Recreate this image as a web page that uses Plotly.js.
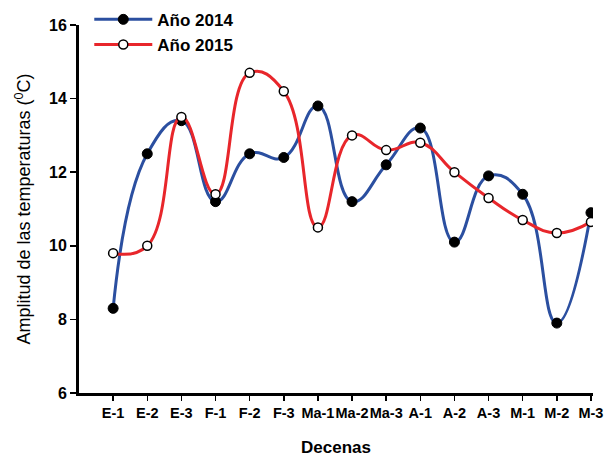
<!DOCTYPE html>
<html>
<head>
<meta charset="utf-8">
<script src="https://cdn.plot.ly/plotly-3.0.1.min.js"></script>
<style>html,body{margin:0;padding:0;background:#fff;}#chart{width:605px;height:457px;}</style>
</head>
<body>
<div id="chart"></div>
<script>
const decenas = ["E-1","E-2","E-3","F-1","F-2","F-3","Ma-1","Ma-2","Ma-3","A-1","A-2","A-3","M-1","M-2","M-3"];
const anio2014 = [8.3, 12.5, 13.4, 11.2, 12.5, 12.4, 13.8, 11.2, 12.2, 13.2, 10.1, 11.9, 11.4, 7.9, 10.9];
const anio2015 = [9.8, 10.0, 13.5, 11.4, 14.7, 14.2, 10.5, 13.0, 12.6, 12.8, 12.0, 11.3, 10.7, 10.35, 10.65];
const yTicks = [6, 8, 10, 12, 14, 16];

const idx = decenas.map((_, i) => i);
const FONT = "Liberation Sans, Arial, sans-serif";

const traces = [
  {
    x: idx, y: anio2014, name: "Año 2014", type: "scatter", mode: "lines+markers",
    line: {shape: "spline", smoothing: 1.3, color: "#2b4fa0", width: 3},
    marker: {symbol: "circle", size: 10, color: "#000000", line: {color: "#000000", width: 1}}
  },
  {
    x: idx, y: anio2015, name: "Año 2015", type: "scatter", mode: "lines+markers",
    line: {shape: "spline", smoothing: 1.3, color: "#e8262b", width: 3},
    marker: {symbol: "circle", size: 9, color: "#ffffff", line: {color: "#000000", width: 1.5}}
  }
];

const layout = {
  width: 605, height: 457,
  margin: {l: 79, r: 12, t: 25, b: 64, autoexpand: false},
  paper_bgcolor: "#ffffff", plot_bgcolor: "#ffffff",
  font: {family: FONT, color: "#000000"},
  showlegend: true,
  legend: {
    x: 0.02, y: 1.063, xanchor: "left", yanchor: "top",
    font: {family: FONT, size: 17, color: "#000", weight: "bold"},
    bgcolor: "rgba(0,0,0,0)", itemwidth: 58, tracegroupgap: 0
  },
  xaxis: {
    range: [-1, 14.06],
    tickmode: "array", tickvals: idx, ticktext: decenas,
    tickangle: 0,
    tickfont: {family: FONT, size: 14.5, weight: "bold"},
    showline: true, linecolor: "#000", linewidth: 3,
    ticks: "outside", ticklen: 5, tickwidth: 1.5, tickcolor: "#000",
    showgrid: false, zeroline: false,
    title: {text: "Decenas", font: {family: FONT, size: 17, weight: "bold"}, standoff: 21}
  },
  yaxis: {
    range: [6, 16],
    tickmode: "array", tickvals: yTicks, ticktext: yTicks.map(String),
    tickfont: {family: FONT, size: 16, weight: "bold"},
    showline: true, linecolor: "#000", linewidth: 3,
    ticks: "outside", ticklen: 6, tickwidth: 1.5, tickcolor: "#000",
    showgrid: false, zeroline: false,
    title: {text: "Amplitud de las temperaturas (<sup>0</sup>C)", font: {family: FONT, size: 18}, standoff: 14}
  }
};

Plotly.newPlot("chart", traces, layout, {displayModeBar: false, staticPlot: true});
</script>
</body>
</html>
